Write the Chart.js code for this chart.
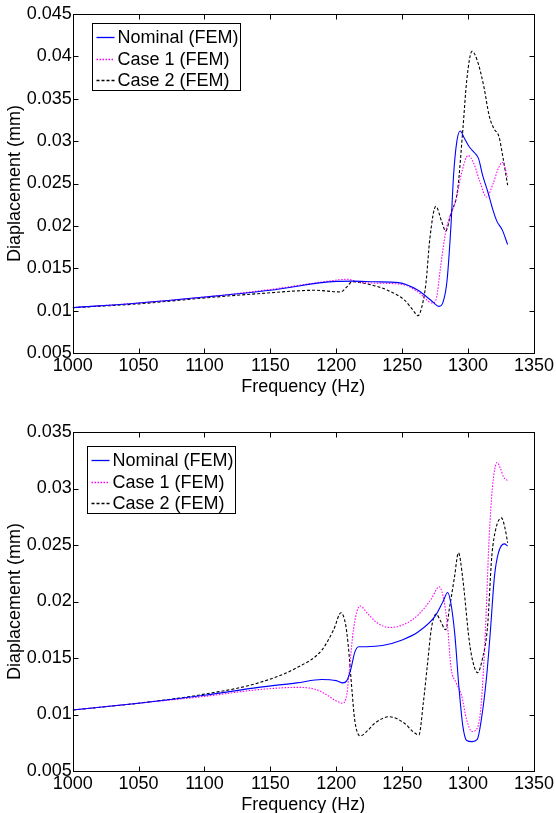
<!DOCTYPE html>
<html>
<head>
<meta charset="utf-8">
<script src="https://cdn.jsdelivr.net/npm/chart.js@4"></script>
<style>
  html, body { margin: 0; padding: 0; background: #fff; overflow: hidden; }
  body { width: 556px; height: 813px; position: relative; }
  canvas { position: absolute; left: 0; }
  #top-chart { top: 0; }
  #bottom-chart { top: 418px; }
</style>
</head>
<body>
<canvas id="top-chart" width="556" height="400"></canvas>
<canvas id="bottom-chart" width="556" height="400"></canvas>
<script>
const seriesNames = ['Nominal (FEM)', 'Case 1 (FEM)', 'Case 2 (FEM)'];
const seriesColors = ['#0000ff', '#ff00ff', '#000000'];
const seriesDash = [[], [1.5, 1.5], [3, 2]];
const freqMin = 1000, freqMax = 1350, freqStep = 50;

// upper plot
const topNominalHz = [1000, 1050, 1100, 1150, 1200, 1212, 1230, 1247, 1262, 1272, 1278, 1281, 1284, 1287, 1289, 1291.5, 1294, 1297, 1301, 1305, 1308, 1311, 1315, 1319, 1322, 1326, 1330];
const topNominalMm = [0.01035, 0.0109, 0.0116, 0.0124, 0.01345, 0.01348, 0.0134, 0.0133, 0.0124, 0.0112, 0.0105, 0.0110, 0.0135, 0.0200, 0.0260, 0.0300, 0.0312, 0.0304, 0.0293, 0.0286, 0.0279, 0.0260, 0.0240, 0.0218, 0.0205, 0.0195, 0.0178];
const topCase1Hz = [1000, 1050, 1100, 1150, 1195, 1208, 1220, 1250, 1262, 1273, 1276, 1279, 1283, 1286, 1291, 1295, 1300, 1304, 1309, 1314, 1319, 1323, 1326, 1330];
const topCase1Mm = [0.01035, 0.0109, 0.0116, 0.0125, 0.0135, 0.0137, 0.0133, 0.0131, 0.0122, 0.0109, 0.0115, 0.0150, 0.0193, 0.0210, 0.0232, 0.0262, 0.0283, 0.0275, 0.0252, 0.0234, 0.0250, 0.0268, 0.0275, 0.0258];
const topCase2Hz = [1000, 1050, 1100, 1141, 1184, 1203, 1208, 1212, 1225, 1239, 1252, 1258, 1262, 1265, 1268, 1271, 1275.5, 1280, 1283, 1287, 1292, 1296, 1299, 1303, 1307, 1312, 1316, 1319.5, 1323.5, 1326, 1330];
const topCase2Mm = [0.01035, 0.0108, 0.0115, 0.0120, 0.0124, 0.0122, 0.0128, 0.0134, 0.0131, 0.0124, 0.0112, 0.0101, 0.0094, 0.0105, 0.0132, 0.0185, 0.0223, 0.0205, 0.0194, 0.0215, 0.0242, 0.0313, 0.0372, 0.0406, 0.0395, 0.0364, 0.0330, 0.0315, 0.0305, 0.0285, 0.0248];

// lower plot
const botNominalHz = [1000, 1050, 1100, 1141, 1170, 1189, 1200, 1205, 1208, 1211, 1214, 1217, 1223, 1235, 1250, 1262, 1275, 1281, 1284.5, 1287, 1290, 1293, 1296, 1299, 1303, 1307, 1310, 1314, 1317, 1320, 1323, 1327.5, 1330];
const botNominalMm = [0.0104, 0.0110, 0.0117, 0.0124, 0.0128, 0.0131, 0.0130, 0.0128, 0.0130, 0.0140, 0.0155, 0.0160, 0.0160, 0.0161, 0.0166, 0.0173, 0.0187, 0.0200, 0.0208, 0.0198, 0.0170, 0.0125, 0.0090, 0.0077, 0.0076, 0.0078, 0.0095, 0.0133, 0.0175, 0.0222, 0.0243, 0.0251, 0.0249];
const botCase1Hz = [1000, 1050, 1100, 1141, 1171, 1185, 1192, 1200, 1205, 1208, 1210, 1213, 1218, 1224, 1230, 1240, 1252, 1262, 1272, 1278, 1281, 1284.5, 1287, 1291, 1295, 1299, 1303, 1307, 1310, 1313, 1316, 1318.5, 1322, 1324.5, 1327, 1330];
const botCase1Mm = [0.0104, 0.0110, 0.0116, 0.0122, 0.0124, 0.0122, 0.0118, 0.0112, 0.0110, 0.0118, 0.0140, 0.0175, 0.0196, 0.0189, 0.0182, 0.0177, 0.0180, 0.0188, 0.0202, 0.0213, 0.0205, 0.0177, 0.0142, 0.0128, 0.0117, 0.0095, 0.0085, 0.0088, 0.0110, 0.0170, 0.0257, 0.0301, 0.0323, 0.0318, 0.0310, 0.0307];
const botCase2Hz = [1000, 1050, 1100, 1141, 1171, 1189, 1198, 1203.6, 1207, 1209, 1212, 1214, 1218, 1224, 1229, 1240, 1252, 1258, 1262.7, 1266, 1269.5, 1272, 1275.7, 1279, 1283, 1286, 1289.6, 1292.7, 1296, 1300.9, 1304, 1307.2, 1311, 1314.7, 1318, 1321, 1325.3, 1328, 1330];
const botCase2Mm = [0.0104, 0.0110, 0.0118, 0.0128, 0.0142, 0.0157, 0.0175, 0.0190, 0.0180, 0.0162, 0.0120, 0.0095, 0.0081, 0.0086, 0.0092, 0.0098, 0.0092, 0.0085, 0.0082, 0.0110, 0.0148, 0.0175, 0.0189, 0.0183, 0.0175, 0.0195, 0.0221, 0.0243, 0.0220, 0.0165, 0.0145, 0.0137, 0.0150, 0.0177, 0.0240, 0.0264, 0.0274, 0.0265, 0.0252];

const FONT = { family: '"Liberation Sans", Arial, sans-serif', size: 18 };

function pts(hz, mm) {
  return hz.map((f, i) => ({ x: f, y: mm[i] }));
}

// box round the plot, inward ticks, and the boxed legend
const frameAndLegend = {
  id: 'frameAndLegend',
  afterDraw(chart, args, opts) {
    const ctx = chart.ctx;
    const a = chart.chartArea;
    const xs = chart.scales.x, ys = chart.scales.y;
    const L = Math.round(a.left) + 0.5, R = Math.round(a.right) + 0.5;
    const T = Math.round(a.top) + 0.5, B = Math.round(a.bottom) + 0.5;
    ctx.save();
    ctx.setLineDash([]);
    ctx.strokeStyle = '#000';
    ctx.lineWidth = 1;
    ctx.strokeRect(L, T, R - L, B - T);
    const tl = 5;
    ctx.beginPath();
    xs.ticks.forEach(t => {
      const px = Math.round(xs.getPixelForValue(t.value)) + 0.5;
      ctx.moveTo(px, B); ctx.lineTo(px, B - tl);
      ctx.moveTo(px, T); ctx.lineTo(px, T + tl);
    });
    ys.ticks.forEach(t => {
      const py = Math.round(ys.getPixelForValue(t.value)) + 0.5;
      ctx.moveTo(L, py); ctx.lineTo(L + tl, py);
      ctx.moveTo(R, py); ctx.lineTo(R - tl, py);
    });
    ctx.stroke();

    const bx = Math.round(a.left + opts.x) + 0.5, by = Math.round(a.top + opts.y) + 0.5;
    const bw = 148, bh = 67;
    ctx.fillStyle = '#fff';
    ctx.fillRect(bx, by, bw, bh);
    ctx.strokeRect(bx, by, bw, bh);
    ctx.font = FONT.size + 'px ' + FONT.family;
    ctx.textBaseline = 'middle';
    seriesNames.forEach((name, i) => {
      const ry = Math.round(by + 13.5 + i * 21.5) + 0.5;
      ctx.save();
      ctx.lineWidth = 1.3;
      ctx.strokeStyle = seriesColors[i];
      ctx.setLineDash(seriesDash[i]);
      ctx.beginPath();
      ctx.moveTo(bx + 4, ry);
      ctx.lineTo(bx + 22, ry);
      ctx.stroke();
      ctx.restore();
      ctx.fillStyle = '#000';
      ctx.fillText(name, bx + 25, ry + 1);
    });
    ctx.restore();
  }
};

function makeChart(id, series, yMax, legendX, legendY) {
  return new Chart(document.getElementById(id), {
    type: 'line',
    data: {
      datasets: series.map((s, i) => ({
        label: seriesNames[i],
        data: pts(s[0], s[1]),
        borderColor: seriesColors[i],
        borderDash: seriesDash[i],
        borderWidth: 1.1,
        pointRadius: 0,
        fill: false,
        cubicInterpolationMode: 'monotone'
      }))
    },
    options: {
      responsive: false,
      animation: false,
      devicePixelRatio: 1,
      layout: { padding: { top: 14, right: 19.3, bottom: 0, left: 0 } },
      plugins: {
        legend: { display: false },
        tooltip: { enabled: false },
        frameAndLegend: { x: legendX, y: legendY }
      },
      scales: {
        x: {
          type: 'linear',
          min: freqMin,
          max: freqMax,
          grid: { display: false, drawTicks: false },
          border: { display: false },
          ticks: {
            stepSize: freqStep,
            color: '#000',
            font: FONT,
            padding: 2,
            maxRotation: 0,
            callback: v => String(v)
          },
          title: { display: true, text: 'Frequency (Hz)', color: '#000', font: FONT, padding: { top: 0, bottom: 2 } },
          afterFit: s => { s.height = 47; }
        },
        y: {
          type: 'linear',
          min: 0.005,
          max: yMax,
          grid: { display: false, drawTicks: false },
          border: { display: false },
          ticks: {
            stepSize: 0.005,
            color: '#000',
            font: FONT,
            padding: 1,
            callback: v => String(+v.toFixed(3))
          },
          title: { display: true, text: 'Diaplacement (mm)', color: '#000', font: FONT, padding: { top: 4, bottom: 0 } },
          afterFit: s => { s.width = 72.7; }
        }
      }
    },
    plugins: [frameAndLegend]
  });
}

makeChart('top-chart', [
  [topNominalHz, topNominalMm],
  [topCase1Hz, topCase1Mm],
  [topCase2Hz, topCase2Mm]
], 0.045, 19, 9.3);

makeChart('bottom-chart', [
  [botNominalHz, botNominalMm],
  [botCase1Hz, botCase1Mm],
  [botCase2Hz, botCase2Mm]
], 0.035, 14.6, 14);
</script>
</body>
</html>
